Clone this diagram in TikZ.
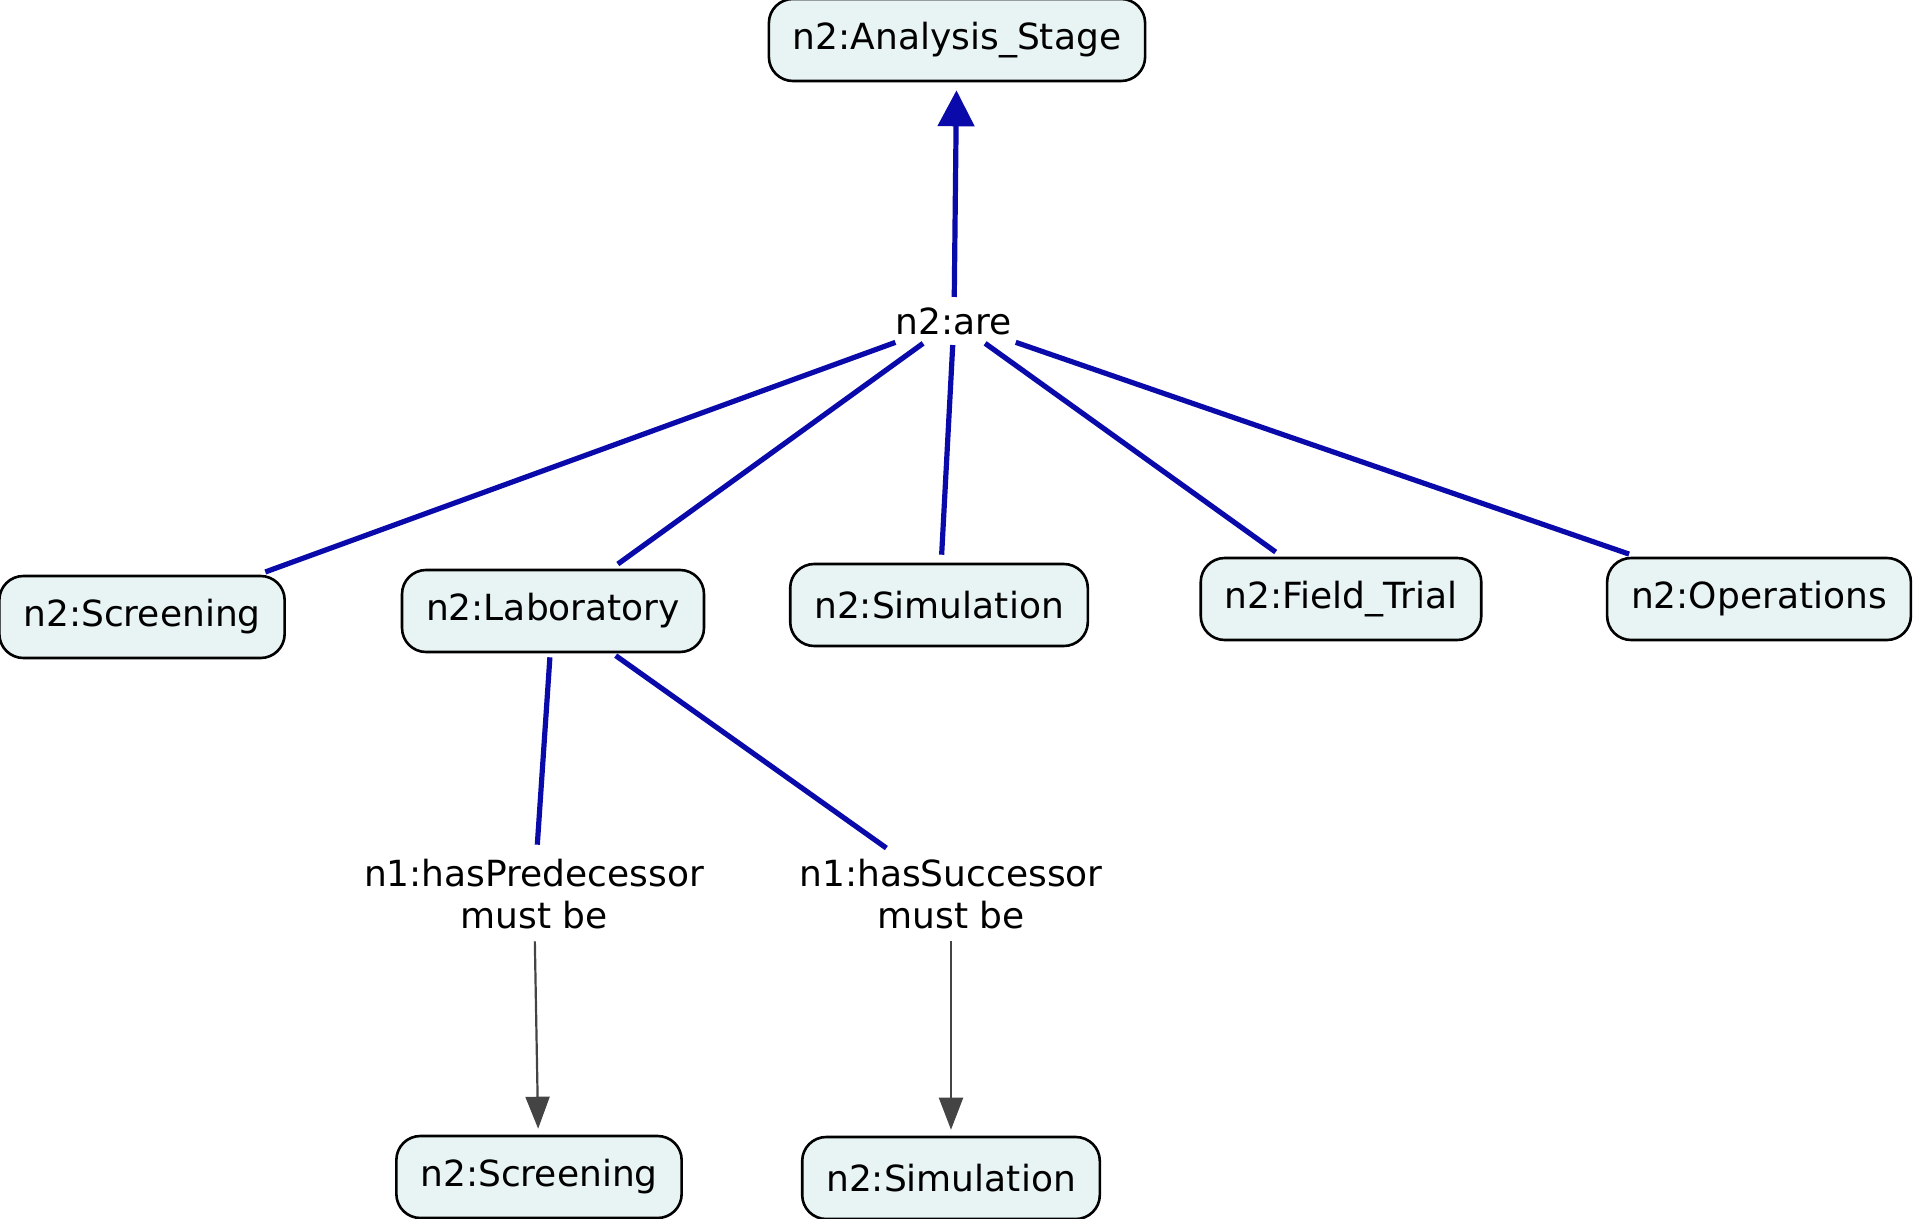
\documentclass[tikz,border=0pt]{standalone}
\usepackage{fontspec}
\setmainfont{DejaVu Sans}
\usepackage{xcolor}
\usepackage{tikz}
\usetikzlibrary{arrows.meta,positioning}
\definecolor{linkblue}{HTML}{0A0AAA}
\definecolor{boxfill}{HTML}{E8F3F3}
\definecolor{arrgray}{HTML}{444444}
\tikzset{
  concept/.style={draw=black,fill=boxfill,rounded corners=12pt,line width=1.3pt,align=center,inner xsep=12pt,minimum height=41pt,font=\fontsize{18}{21}\selectfont},
  rel/.style={align=center,inner sep=3pt,font=\fontsize{18}{21}\selectfont},
  link/.style={line width=2.6pt,color=linkblue,shorten <=2pt,shorten >=4pt},
  linka/.style={link,-{Triangle[length=18pt,width=18pt]},shorten >=4pt},
  arrg/.style={-{Triangle[length=16pt,width=12pt]},line width=1.1pt,color=arrgray,shorten <=3pt,shorten >=3pt},
}
\begin{document}
\begin{tikzpicture}[x=0.5pt,y=-0.5pt]
\useasboundingbox (0,0) rectangle (1915,1219);
\node[concept] (stage) at (957,40) {n2:Analysis\_Stage};
\node[rel] (are) at (954,321) {n2:are};
\node[concept] (scr) at (142,617) {n2:Screening};
\node[concept] (lab) at (553,611) {n2:Laboratory};
\node[concept] (sim) at (939,605) {n2:Simulation};
\node[concept] (fld) at (1341,599) {n2:Field\_Trial};
\node[concept] (ops) at (1759,599) {n2:Operations};
\node[rel] (pred) at (534,894) {n1:hasPredecessor\\must be};
\node[rel] (succ) at (951,894) {n1:hasSuccessor\\must be};
\node[concept] (scrb) at (539,1177) {n2:Screening};
\node[concept] (simb) at (951,1178) {n2:Simulation};
\draw[linka](are)--(stage);
\draw[link](are)--(scr);\draw[link](are)--(lab);\draw[link](are)--(sim);\draw[link](are)--(fld);\draw[link](are)--(ops);
\draw[link](lab)--(pred);\draw[link](lab)--(succ);
\draw[arrg](pred)--(scrb);\draw[arrg](succ)--(simb);
\end{tikzpicture}
\end{document}
